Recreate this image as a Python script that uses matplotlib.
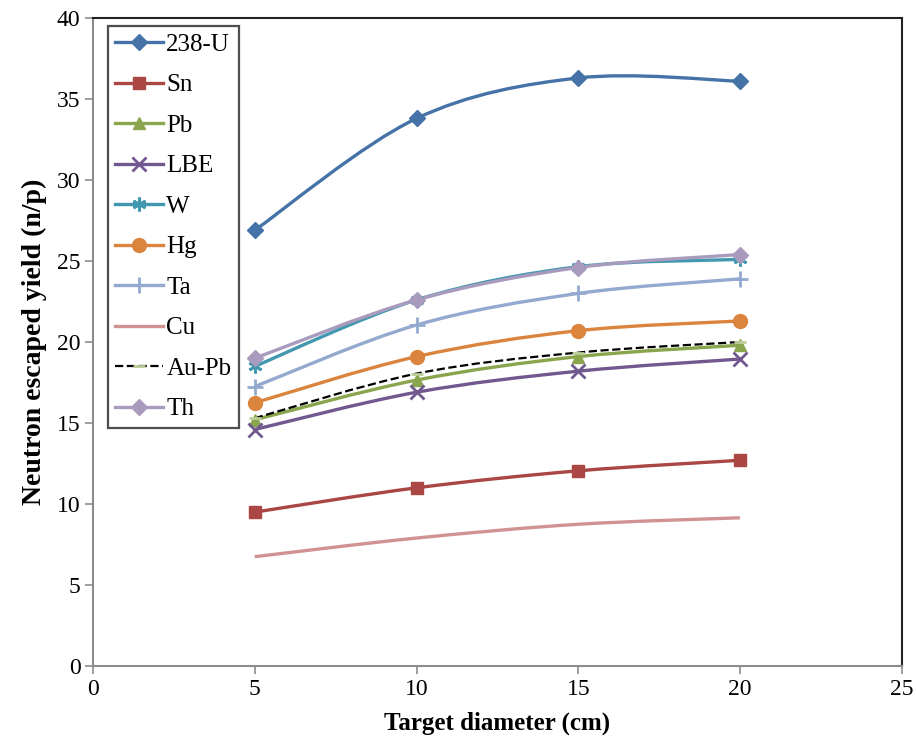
import numpy as np
import matplotlib
matplotlib.use("Agg")
import matplotlib.pyplot as plt
from matplotlib.path import Path
from matplotlib.patches import PathPatch
from matplotlib.lines import Line2D

plt.rcParams['font.family'] = ['Liberation Serif', 'DejaVu Serif']

diameter = [5, 10, 15, 20]

u238 = [26.9, 33.8, 36.3, 36.1]
sn = [9.5, 11.0, 12.05, 12.7]
pb = [15.2, 17.65, 19.1, 19.8]
lbe = [14.6, 16.9, 18.2, 18.95]
w = [18.5, 22.6, 24.65, 25.1]
hg = [16.25, 19.1, 20.7, 21.3]
ta = [17.25, 21.05, 23.0, 23.9]
cu = [6.75, 7.9, 8.75, 9.15]
aupb = [15.3, 18.05, 19.35, 20.0]
th = [19.0, 22.6, 24.6, 25.4]

names = ['238-U', 'Sn', 'Pb', 'LBE', 'W', 'Hg', 'Ta', 'Cu', 'Au-Pb', 'Th']
series = [u238, sn, pb, lbe, w, hg, ta, cu, aupb, th]
colors = ['#4572A7', '#AA4643', '#89A54E', '#71588F', '#4198AF',
          '#DB843D', '#93A9CF', '#D19392', '#000000', '#A99BBD']
markers = ['D', 's', '^', 'x', (6, 2, 0), 'o', '+', None, '_', 'D']
msizes = [8, 9, 9, 10, 10, 10, 12, 0, 8, 8]
mcolors = ['#4572A7', '#AA4643', '#89A54E', '#71588F', '#4198AF',
           '#DB843D', '#93A9CF', '#D19392', '#B9CD96', '#A99BBD']
styles = ['-'] * 8 + ['--', '-']


def smooth_path(xs, ys, k=1.0 / 6.0):
    """Cubic Bezier path through the points (spreadsheet-style smoothing)."""
    pts = np.column_stack([xs, ys]).astype(float)
    n = len(pts)
    verts = [pts[0]]
    codes = [Path.MOVETO]
    for i in range(n - 1):
        p0 = pts[i - 1] if i > 0 else pts[i]
        p1 = pts[i]
        p2 = pts[i + 1]
        p3 = pts[i + 2] if i + 2 < n else pts[i + 1]
        c1 = p1 + (p2 - p0) * k
        c2 = p2 - (p3 - p1) * k
        verts += [c1, c2, p2]
        codes += [Path.CURVE4] * 3
    return Path(verts, codes)


def edge_width(m):
    return 2.0 if m in ('x', '+', '_') or isinstance(m, tuple) else 1.0


fig = plt.figure(figsize=(9.16, 7.42), dpi=100)
ax = fig.add_axes([0.1015, 0.1024, 0.8830, 0.8733])

handles = []
for name, ys, c, m, ms, mc, ls in zip(names, series, colors, markers,
                                      msizes, mcolors, styles):
    lw = 1.6 if ls == '--' else 2.4
    patch = PathPatch(smooth_path(diameter, ys), facecolor='none',
                      edgecolor=c, lw=lw, linestyle=ls, zorder=2)
    ax.add_patch(patch)
    if m is not None:
        ax.plot(diameter, ys, linestyle='none', marker=m, markersize=ms,
                color=mc, markeredgecolor=mc, markeredgewidth=edge_width(m),
                zorder=3)
    handles.append(Line2D([], [], color=c, lw=lw, linestyle=ls,
                          marker=m, markersize=ms, markerfacecolor=mc,
                          markeredgecolor=mc, markeredgewidth=edge_width(m)))

ax.set_xlim(0, 25)
ax.set_ylim(0, 40)
ax.set_xticks(np.arange(0, 26, 5))
ax.set_yticks(np.arange(0, 41, 5))

for side in ('left', 'bottom'):
    ax.spines[side].set_color('#8c8c8c')
    ax.spines[side].set_linewidth(1.5)
for side in ('top', 'right'):
    ax.spines[side].set_color('#222222')
    ax.spines[side].set_linewidth(1.5)
ax.tick_params(axis='both', direction='out', length=6, width=1.2,
               color='#8c8c8c', labelsize=17, pad=3)

ax.set_xlabel('Target diameter (cm)', fontsize=18, fontweight='bold', labelpad=9)
ax.set_ylabel('Neutron escaped yield (n/p)', fontsize=20, fontweight='bold', labelpad=7)

leg = ax.legend(handles, names, loc='upper left', bbox_to_anchor=(0.018, 0.988),
                fontsize=18, frameon=True, fancybox=False, handlelength=1.9,
                labelspacing=0.72, borderpad=0.3, handletextpad=0.15,
                borderaxespad=0.0)
leg.get_frame().set_edgecolor('#222222')
leg.get_frame().set_linewidth(1.6)

fig.savefig('out.png', dpi=100)
